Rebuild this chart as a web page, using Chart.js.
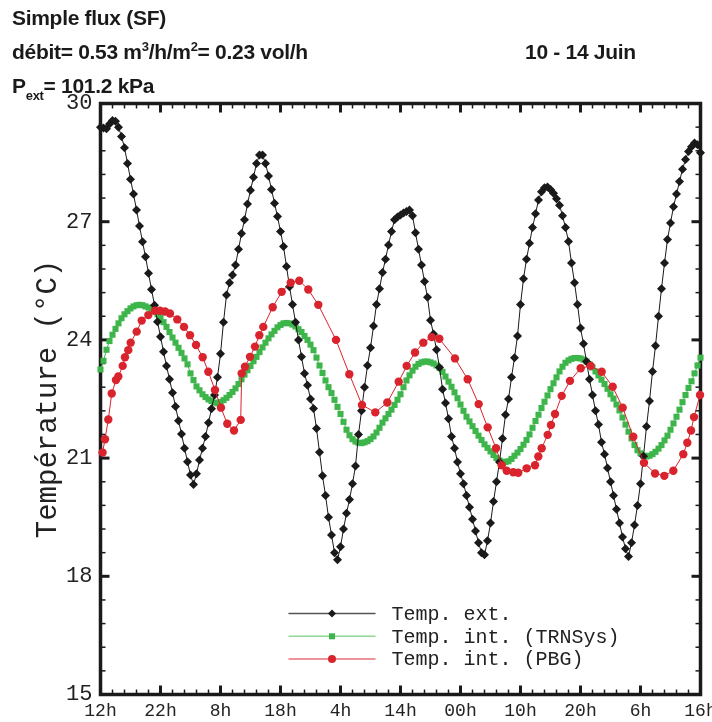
<!DOCTYPE html>
<html>
<head>
<meta charset="utf-8">
<script src="https://cdn.jsdelivr.net/npm/chart.js@4.4.1/dist/chart.umd.min.js"></script>
<style>
  html, body { margin: 0; padding: 0; background: #fff; }
  #wrap { position: relative; width: 712px; height: 722px; }
  canvas { position: absolute; left: 0; top: 0; }
  .hdr { position: absolute; font-family: "Liberation Sans", Arial, sans-serif; font-weight: bold; font-size: 21px; line-height: 24px; color: #1a1a1a; white-space: nowrap; letter-spacing: -0.3px; }
  .hdr sup { font-size: 13px; line-height: 0; vertical-align: 8px; }
  .hdr sub { font-size: 13px; line-height: 0; vertical-align: -7px; }
</style>
</head>
<body>
<div id="wrap">
  <canvas id="tempChart" width="712" height="722"></canvas>
  <div class="hdr" style="left:12px;top:6px">Simple flux (SF)</div>
  <div class="hdr" style="left:12px;top:40px">débit= 0.53 m<sup>3</sup>/h/m<sup>2</sup>= 0.23 vol/h</div>
  <div class="hdr" style="left:525px;top:40px">10 - 14 Juin</div>
  <div class="hdr" style="left:12px;top:74px">P<sub>ext</sub>= 101.2 kPa</div>
</div>
<script>
// hours since 10 June 12h, one reading every half hour for the two first series
const STEP_HOURS = 0.5;

const extTemps = [
    29.40, 29.38, 29.36, 29.48, 29.57, 29.55, 29.40, 29.16, 28.88, 28.48,
    28.08, 27.70, 27.30, 26.89, 26.49, 26.11, 25.69, 25.28, 24.88, 24.46,
    24.08, 23.70, 23.34, 23.00, 22.66, 22.31, 21.95, 21.61, 21.25, 20.91,
    20.57, 20.33, 20.60, 20.95, 21.25, 21.55, 21.90, 22.25, 22.60, 23.05,
    23.65, 24.45, 25.14, 25.45, 25.65, 25.90, 26.30, 26.70, 27.05, 27.45,
    27.80, 28.13, 28.48, 28.69, 28.69, 28.48, 28.16, 27.82, 27.47, 27.13,
    26.75, 26.37, 25.86, 25.35, 24.90, 24.45, 24.00, 23.57, 23.15, 22.85,
    22.50, 22.26, 21.75, 21.15, 20.55, 20.05, 19.50, 19.05, 18.60, 18.42,
    18.75, 19.20, 19.60, 19.95, 20.35, 20.80, 21.60, 22.20, 22.80, 23.35,
    23.80, 24.35, 24.90, 25.30, 25.71, 26.05, 26.41, 26.75, 27.05, 27.12,
    27.17, 27.22, 27.26, 27.30, 27.15, 26.72, 26.30, 25.90, 25.48, 25.08,
    24.50, 24.15, 23.75, 23.30, 22.75, 22.40, 22.00, 21.55, 21.25, 20.90,
    20.60, 20.35, 20.05, 19.75, 19.45, 19.15, 18.85, 18.60, 18.55, 18.90,
    19.35, 19.90, 20.40, 20.90, 21.50, 22.10, 22.50, 23.05, 23.55, 24.10,
    24.90, 25.55, 26.05, 26.45, 26.85, 27.20, 27.55, 27.76, 27.86, 27.88,
    27.82, 27.72, 27.58, 27.42, 27.15, 26.85, 26.50, 25.95, 25.45, 24.90,
    24.30, 23.90, 23.45, 23.00, 22.60, 22.20, 21.85, 21.40, 21.10, 20.75,
    20.40, 20.05, 19.70, 19.35, 19.00, 18.70, 18.50, 18.85, 19.30, 19.80,
    20.35, 21.05, 21.80, 22.45, 23.20, 23.85, 24.60, 25.30, 25.95, 26.55,
    26.97, 27.38, 27.70, 28.02, 28.33, 28.58, 28.78, 28.90, 29.00, 28.95,
    28.75
];

const trnsysTemps = [
    23.25, 23.47, 23.75, 23.97, 24.13, 24.28, 24.42, 24.55, 24.65, 24.73,
    24.80, 24.85, 24.88, 24.89, 24.88, 24.85, 24.82, 24.78, 24.72, 24.65,
    24.57, 24.45, 24.33, 24.20, 24.06, 23.93, 23.80, 23.67, 23.53, 23.38,
    23.15, 22.98, 22.82, 22.72, 22.62, 22.55, 22.49, 22.45, 22.41, 22.39,
    22.42, 22.47, 22.53, 22.60, 22.68, 22.77, 22.88, 23.00, 23.12, 23.23,
    23.34, 23.46, 23.57, 23.69, 23.81, 23.93, 24.04, 24.14, 24.23, 24.32,
    24.38, 24.42, 24.43, 24.42, 24.39, 24.34, 24.27, 24.20, 24.10, 24.00,
    23.88, 23.74, 23.55, 23.35, 23.16, 22.97, 22.80, 22.65, 22.48, 22.30,
    22.12, 21.92, 21.72, 21.58, 21.48, 21.42, 21.39, 21.38, 21.40, 21.43,
    21.48, 21.55, 21.65, 21.77, 21.90, 22.01, 22.12, 22.23, 22.35, 22.48,
    22.62, 22.80, 22.97, 23.10, 23.22, 23.32, 23.39, 23.43, 23.45, 23.45,
    23.43, 23.40, 23.35, 23.29, 23.19, 23.07, 22.94, 22.81, 22.67, 22.52,
    22.36, 22.20, 22.05, 21.93, 21.81, 21.69, 21.57, 21.46, 21.35, 21.26,
    21.17, 21.08, 21.00, 20.94, 20.91, 20.90, 20.92, 20.98, 21.06, 21.14,
    21.23, 21.34, 21.46, 21.60, 21.77, 21.94, 22.10, 22.27, 22.43, 22.59,
    22.75, 22.90, 23.05, 23.20, 23.32, 23.42, 23.48, 23.52, 23.54, 23.54,
    23.53, 23.50, 23.45, 23.38, 23.30, 23.20, 23.10, 22.99, 22.88, 22.76,
    22.62, 22.51, 22.36, 22.21, 22.03, 21.85, 21.67, 21.50, 21.33, 21.20,
    21.12, 21.06, 21.04, 21.06, 21.10, 21.16, 21.24, 21.33, 21.45, 21.57,
    21.72, 21.88, 22.05, 22.23, 22.42, 22.60, 22.78, 22.95, 23.15, 23.35,
    23.55
];

// PBG readings are irregular, so they keep their own hours
const pbgHours = [
    0.35, 0.75, 1.3, 1.87, 2.58, 2.97, 3.7, 4.08, 4.63, 5.03,
    6.03, 6.87, 7.97, 9.08, 9.92, 10.75, 11.58, 12.8, 13.92, 14.92,
    15.92, 17.03, 17.97, 19.08, 20.08, 21.13, 22.25, 23.37, 23.53, 24.08,
    24.92, 25.75, 26.47, 27.13, 28.7, 30.2, 31.7, 33.13, 34.63, 36.3,
    39.25, 41.47, 43.58, 45.8, 47.8, 49.7, 51.03, 52.42, 53.8, 55.2,
    56.47, 59.08, 61.2, 63.03, 64.53, 65.92, 66.87, 67.7, 68.8, 69.63,
    71.03, 72.42, 72.97, 73.53, 74.53, 75.08, 75.75, 76.87, 78.25, 80.03,
    81.7, 83.53, 85.37, 87.03, 88.8, 90.58, 92.42, 93.97, 95.47, 97.13,
    97.8, 98.42, 98.92, 99.92
];
const pbgTemps = [
    21.14, 21.48, 21.98, 22.64, 22.98, 23.07, 23.34, 23.56, 23.74, 23.93,
    24.21, 24.49, 24.63, 24.74, 24.74, 24.72, 24.67, 24.52, 24.33, 24.12,
    23.87, 23.56, 23.19, 22.73, 22.28, 21.87, 21.70, 21.97, 23.15, 23.32,
    23.57, 23.83, 24.12, 24.33, 24.83, 25.22, 25.45, 25.50, 25.28, 24.89,
    24.00, 23.13, 22.35, 22.16, 22.41, 22.94, 23.34, 23.68, 23.93, 24.07,
    24.03, 23.53, 23.00, 22.37, 21.78, 21.25, 20.82, 20.68, 20.64, 20.63,
    20.74, 20.82, 21.04, 21.25, 21.59, 21.84, 22.12, 22.58, 22.96, 23.28,
    23.34, 23.19, 22.81, 22.28, 21.54, 20.88, 20.61, 20.55, 20.68, 21.10,
    21.39, 21.70, 22.04, 22.60
];

const xTickHours = [0, 10, 20, 30, 40, 50, 60, 70, 80, 90, 100];
const xTickLabels = ['12h', '22h', '8h', '18h', '4h', '14h', '00h', '10h', '20h', '6h', '16h'];
const yTickValues = [15, 18, 21, 24, 27, 30];

const MONO = '"Liberation Mono", "Courier New", monospace';

const toPoints = (temps) => temps.map((t, i) => ({ x: i * STEP_HOURS, y: t }));
const extPoints = toPoints(extTemps);
const trnsysPoints = toPoints(trnsysTemps);
const pbgPoints = pbgHours.map((h, i) => ({ x: h, y: pbgTemps[i] }));

// frame with inward ticks on all four sides
const axisFrame = {
    id: 'axisFrame',
    beforeDatasetsDraw(chart) {
        const { ctx, chartArea: a, scales: { x, y } } = chart;
        const seg = (x1, y1, x2, y2) => { ctx.beginPath(); ctx.moveTo(x1, y1); ctx.lineTo(x2, y2); ctx.stroke(); };
        ctx.save();
        ctx.strokeStyle = '#1a1a1a';

        ctx.lineWidth = 1.5;
        for (let h = 2; h < 100; h += 2) {
            if (h % 10 === 0) continue;
            const px = x.getPixelForValue(h);
            seg(px, a.bottom, px, a.bottom - 5);
            seg(px, a.top, px, a.top + 5);
        }
        for (let i = 1; i < 25; i++) {
            if (i % 5 === 0) continue;
            const py = y.getPixelForValue(15 + i * 0.6);
            seg(a.left, py, a.left + 5, py);
            seg(a.right, py, a.right - 5, py);
        }

        ctx.lineWidth = 3;
        xTickHours.forEach(h => {
            const px = x.getPixelForValue(h);
            seg(px, a.bottom, px, a.bottom - 9);
            seg(px, a.top, px, a.top + 9);
        });
        yTickValues.forEach(t => {
            const py = y.getPixelForValue(t);
            seg(a.left, py, a.left + 9, py);
            seg(a.right, py, a.right - 9, py);
        });

        ctx.lineWidth = 3.5;
        ctx.strokeRect(a.left, a.top, a.right - a.left, a.bottom - a.top);
        ctx.restore();
    }
};

// legend box drawn inside the plot, bottom centre
const innerLegend = {
    id: 'innerLegend',
    afterDatasetsDraw(chart) {
        const { ctx, chartArea: a } = chart;
        const rows = [
            { text: 'Temp. ext.', line: '#555555', fill: '#1a1a1a', shape: 'diamond' },
            { text: 'Temp. int. (TRNSys)', line: '#8fd694', fill: '#3db54a', shape: 'square' },
            { text: 'Temp. int. (PBG)', line: '#e8707a', fill: '#d9232d', shape: 'circle' }
        ];
        const x0 = a.left + 188, x1 = a.left + 275, xm = (x0 + x1) / 2;
        ctx.save();
        ctx.font = '20px ' + MONO;
        ctx.textBaseline = 'middle';
        rows.forEach((r, i) => {
            const yy = a.top + 510 + i * 22.8;
            ctx.strokeStyle = r.line;
            ctx.lineWidth = 1.5;
            ctx.beginPath(); ctx.moveTo(x0, yy); ctx.lineTo(x1, yy); ctx.stroke();
            ctx.fillStyle = r.fill;
            ctx.beginPath();
            if (r.shape === 'diamond') {
                ctx.moveTo(xm, yy - 4); ctx.lineTo(xm + 4, yy); ctx.lineTo(xm, yy + 4); ctx.lineTo(xm - 4, yy);
                ctx.closePath();
            } else if (r.shape === 'square') {
                ctx.rect(xm - 3, yy - 3, 6, 6);
            } else {
                ctx.arc(xm, yy, 4, 0, Math.PI * 2);
            }
            ctx.fill();
            ctx.fillStyle = '#222';
            ctx.fillText(r.text, a.left + 291, yy + 1);
        });
        ctx.restore();
    }
};

const ctx = document.getElementById('tempChart').getContext('2d');
new Chart(ctx, {
    type: 'line',
    data: {
        datasets: [
            {
                label: 'Temp. ext.',
                data: extPoints,
                borderColor: '#1a1a1a',
                backgroundColor: '#1a1a1a',
                borderWidth: 1,
                pointStyle: 'rectRot',
                pointRadius: 4.5,
                pointBorderWidth: 0,
                order: 1,
                clip: false
            },
            {
                label: 'Temp. int. (TRNSys)',
                data: trnsysPoints,
                borderColor: '#3db54a',
                backgroundColor: '#3db54a',
                borderWidth: 1,
                pointStyle: 'rect',
                pointRadius: 4.3,
                pointBorderWidth: 0,
                order: 2,
                clip: false
            },
            {
                label: 'Temp. int. (PBG)',
                data: pbgPoints,
                borderColor: '#d9232d',
                backgroundColor: '#d9232d',
                borderWidth: 1,
                pointStyle: 'circle',
                pointRadius: 4.2,
                pointBorderWidth: 0,
                order: 0,
                clip: false
            }
        ]
    },
    options: {
        responsive: false,
        animation: false,
        layout: { padding: { top: 103.5, right: 11.5, left: 0, bottom: 0 } },
        plugins: { legend: { display: false }, tooltip: { enabled: false } },
        scales: {
            x: {
                type: 'linear',
                min: 0,
                max: 100,
                grid: { display: false, drawTicks: false },
                border: { display: false },
                afterBuildTicks: s => { s.ticks = xTickHours.map(v => ({ value: v })); },
                afterFit: s => { s.height = 27.5; s.paddingLeft = 0; s.paddingRight = 0; },
                ticks: {
                    autoSkip: false,
                    maxRotation: 0,
                    padding: 6,
                    color: '#222',
                    font: { family: MONO, size: 18 },
                    callback: (v, i) => xTickLabels[i]
                }
            },
            y: {
                min: 15,
                max: 30,
                grid: { display: false, drawTicks: false },
                border: { display: false },
                afterBuildTicks: s => { s.ticks = yTickValues.map(v => ({ value: v })); },
                afterFit: s => { s.width = 100.5; },
                ticks: {
                    padding: 8,
                    color: '#222',
                    font: { family: MONO, size: 22 }
                },
                title: {
                    display: true,
                    text: 'Température (°C)',
                    color: '#222',
                    font: { family: MONO, size: 29 },
                    padding: { top: 31, bottom: 0 }
                }
            }
        }
    },
    plugins: [axisFrame, innerLegend]
});
</script>
</body>
</html>
